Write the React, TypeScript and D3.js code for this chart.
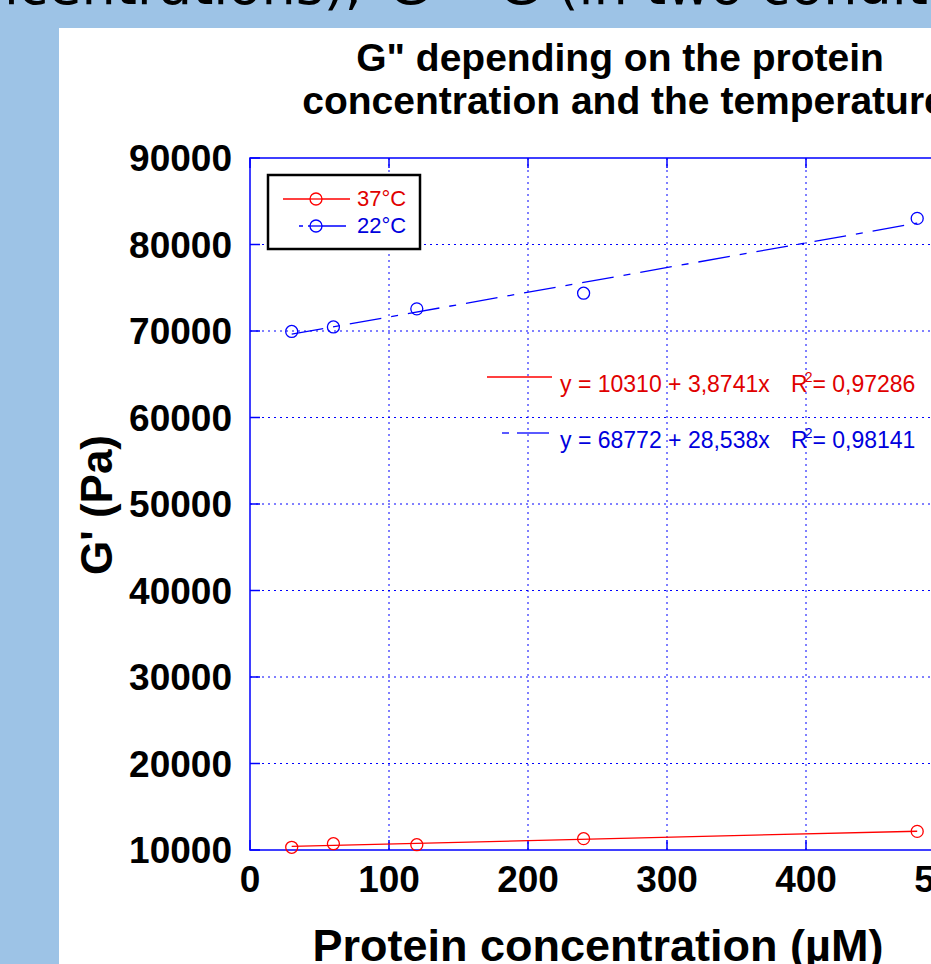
import React from "react";
import * as d3 from "d3";

// values
const concentrations = [30, 60, 120, 240, 480];
const g37 = [10310, 10730, 10610, 11310, 12150];
const g22 = [69950, 70470, 72560, 74370, 83020];

const seriesNames = ["37°C", "22°C"];
const fitIntercepts = [10310, 68772];
const fitSlopes = [3.8741, 28.538];
const fitR2 = [0.97286, 0.98141];

const xTicks = [0, 100, 200, 300, 400, 500];
const yTicks = [10000, 20000, 30000, 40000, 50000, 60000, 70000, 80000, 90000];

const RED = "#ff0000";
const BLUE = "#0000ff";
const FONT = "'Liberation Sans', Arial, sans-serif";
const FIT_DASH = "32,10,7,10";

const comma = (v: number) => String(v).replace(".", ",");

const App = () => {
  const width = 931;
  const height = 964;
  const plot = { left: 250, top: 158, right: 945, bottom: 850 };

  const x = d3.scaleLinear().domain([0, 500]).range([plot.left, plot.right]);
  const y = d3.scaleLinear().domain([10000, 90000]).range([plot.bottom, plot.top]);

  const line = d3
    .line<[number, number]>()
    .x((d) => x(d[0]))
    .y((d) => y(d[1]));

  const series = [
    { name: seriesNames[0], values: g37, color: RED, text: "#e00000", dash: undefined },
    { name: seriesNames[1], values: g22, color: BLUE, text: "#0000dd", dash: FIT_DASH },
  ];

  const xMin = d3.min(concentrations) as number;
  const xMax = d3.max(concentrations) as number;

  return (
    <svg
      width={width}
      height={height}
      style={{ position: "absolute", left: 0, top: 0, display: "block" }}
    >
      {/* slide background and white panel */}
      <rect x={0} y={0} width={width} height={height} fill="#9dc3e6" />
      <g fontFamily="'DejaVu Sans', sans-serif" fontSize={54}>
        <text x={362} y={4} textAnchor="end">
          concentrations),
        </text>
        <text x={388} y={4}>
          G' - G (in two conditions)
        </text>
      </g>
      <rect x={59} y={28} width={width - 59} height={height - 28} fill="#ffffff" />

      {/* title */}
      <g fontFamily={FONT} fontWeight="bold" fontSize={39} textAnchor="middle">
        <text x={620} y={71}>G" depending on the protein</text>
        <text x={624} y={114}>concentration and the temperature</text>
      </g>

      {/* grid */}
      <g stroke={BLUE} strokeWidth={1} strokeDasharray="2,4">
        {xTicks.slice(1).map((t) => (
          <line key={"gx" + t} x1={x(t)} x2={x(t)} y1={plot.top} y2={plot.bottom} />
        ))}
        {yTicks.slice(1, -1).map((t) => (
          <line key={"gy" + t} x1={plot.left} x2={plot.right} y1={y(t)} y2={y(t)} />
        ))}
      </g>

      {/* inner ticks */}
      <g stroke={BLUE} strokeWidth={1.5}>
        {xTicks.map((t) => (
          <g key={"tx" + t}>
            <line x1={x(t)} x2={x(t)} y1={plot.bottom} y2={plot.bottom - 10} />
            <line x1={x(t)} x2={x(t)} y1={plot.top} y2={plot.top + 10} />
          </g>
        ))}
        {yTicks.map((t) => (
          <line key={"ty" + t} x1={plot.left} x2={plot.left + 10} y1={y(t)} y2={y(t)} />
        ))}
      </g>

      {/* frame */}
      <rect
        x={plot.left}
        y={plot.top}
        width={plot.right - plot.left}
        height={plot.bottom - plot.top}
        fill="none"
        stroke={BLUE}
        strokeWidth={1.5}
      />

      {/* tick labels */}
      <g fontFamily={FONT} fontWeight="bold" fill="#000">
        {yTicks.map((t) => (
          <text key={"ly" + t} x={232} y={y(t)} fontSize={37} textAnchor="end" dy="0.36em">
            {t}
          </text>
        ))}
        {xTicks.map((t) => (
          <text key={"lx" + t} x={x(t)} y={892} fontSize={37} textAnchor="middle">
            {t}
          </text>
        ))}
      </g>

      {/* axis titles */}
      <text
        x={598}
        y={961}
        fontFamily={FONT}
        fontWeight="bold"
        fontSize={45}
        textAnchor="middle"
      >
        Protein concentration (µM)
      </text>
      <text
        transform="translate(112,505) rotate(-90)"
        fontFamily={FONT}
        fontWeight="bold"
        fontSize={44}
        textAnchor="middle"
      >
        G' (Pa)
      </text>

      {/* fit lines and points */}
      {series.map((s, i) => {
        const fit: [number, number][] = [xMin, xMax].map((c) => [
          c,
          fitIntercepts[i] + fitSlopes[i] * c,
        ]);
        return (
          <g key={s.name}>
            <path
              d={line(fit) || ""}
              fill="none"
              stroke={s.color}
              strokeWidth={1.3}
              strokeDasharray={s.dash}
            />
            {concentrations.map((c, j) => (
              <circle
                key={c}
                cx={x(c)}
                cy={y(s.values[j])}
                r={6}
                fill="none"
                stroke={s.color}
                strokeWidth={1.3}
              />
            ))}
          </g>
        );
      })}

      {/* legend */}
      <rect x={268} y={175} width={152} height={74} fill="#fff" stroke="#000" strokeWidth={2.5} />
      {series.map((s, i) => {
        const ly = 199 + i * 27;
        return (
          <g key={"leg" + s.name}>
            <line
              x1={i === 0 ? 283 : 299}
              x2={i === 0 ? 350 : 346}
              y1={ly}
              y2={ly}
              stroke={s.color}
              strokeWidth={1.3}
              strokeDasharray={i === 0 ? undefined : "4,5,60"}
            />
            <circle cx={316} cy={ly} r={6} fill="#fff" stroke={s.color} strokeWidth={1.3} />
            <line x1={310} x2={322} y1={ly} y2={ly} stroke={s.color} strokeWidth={1.3} />
            <text x={357} y={ly + 7} fontFamily={FONT} fontSize={22} fill={s.text}>
              {s.name}
            </text>
          </g>
        );
      })}

      {/* fit equations */}
      {series.map((s, i) => {
        const ey = 377 + i * 56;
        return (
          <g key={"eq" + s.name} fontFamily={FONT} fontSize={23} fill={s.text}>
            {i === 0 ? (
              <line x1={487} x2={552} y1={ey} y2={ey} stroke={s.color} strokeWidth={1.3} />
            ) : (
              <g stroke={s.color} strokeWidth={1.3}>
                <line x1={502} x2={509} y1={ey} y2={ey} />
                <line x1={517} x2={549} y1={ey} y2={ey} />
              </g>
            )}
            <text x={560} y={ey + 15}>
              {`y = ${fitIntercepts[i]} + ${comma(fitSlopes[i])}x`}
            </text>
            <text x={791} y={ey + 15}>
              R
              <tspan fontSize={14} dy={-10} dx={-3}>
                2
              </tspan>
              <tspan dy={10}>{`= ${comma(fitR2[i])}`}</tspan>
            </text>
          </g>
        );
      })}
    </svg>
  );
};

export default App;
